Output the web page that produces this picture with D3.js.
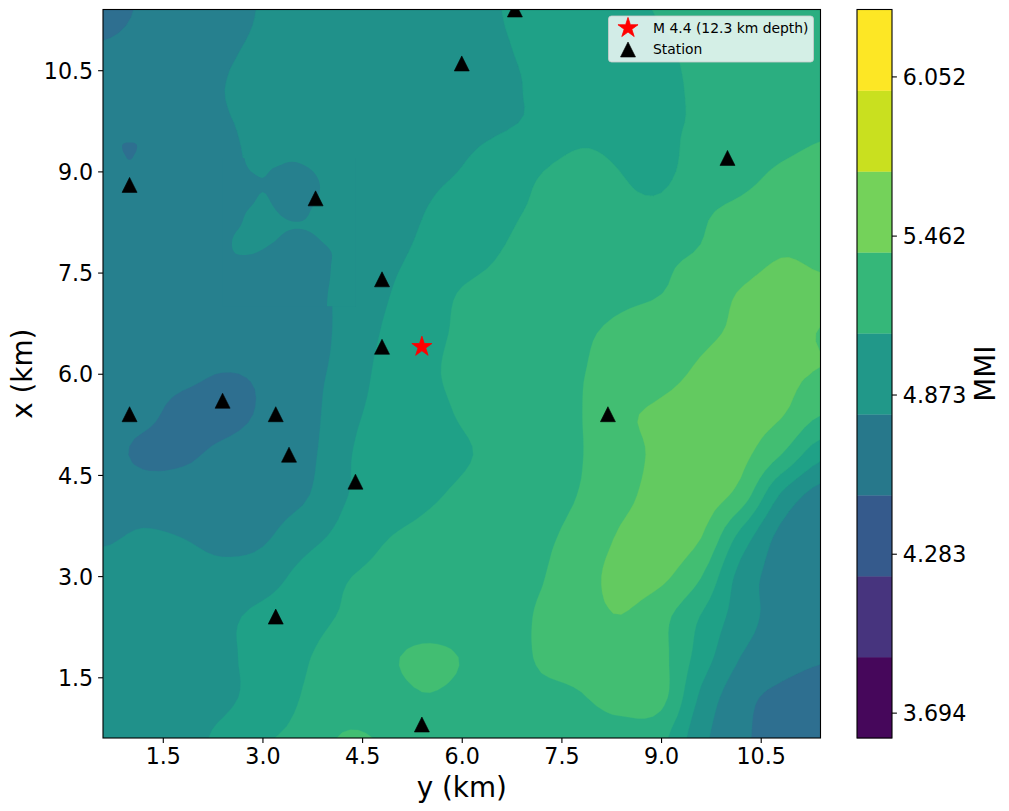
<!DOCTYPE html>
<html><head><meta charset="utf-8">
<script src="https://cdn.jsdelivr.net/npm/d3@7/dist/d3.min.js"></script>
<style>
html,body{margin:0;padding:0;background:#fff}
svg{display:block}
text{font-family:"DejaVu Sans",sans-serif;fill:#000}
</style></head><body><svg id="c" width="1009" height="811"></svg>
<script>
// MMI on a 0.6 km grid; rows run from x = 11.4 km (top) down to x = 0.6 km, columns from y = 0.6 to 11.4 km
const mmiRows = [
[4.62,4.724,4.788,4.85,4.908,4.94,4.972,5.004,5.036,5.068,5.1,5.152,5.206,5.26,5.31,5.34,5.37,5.4,5.43],
[4.72,4.76,4.81,4.882,4.916,4.944,4.974,5.004,5.032,5.06,5.09,5.13,5.18,5.23,5.28,5.33,5.36,5.4,5.44],
[4.74,4.78,4.83,4.898,4.92,4.944,4.97,4.996,5.024,5.05,5.08,5.12,5.17,5.22,5.27,5.32,5.36,5.4,5.46],
[4.78,4.75,4.82,4.886,4.918,4.948,4.978,5.008,5.038,5.066,5.096,5.14,5.24,5.232,5.278,5.32,5.37,5.42,5.48],
[4.8,4.76,4.82,4.87,4.92,4.925,4.96,5.01,5.06,5.106,5.2,5.296,5.37,5.298,5.26,5.39,5.45,5.52,5.57],
[4.8,4.79,4.82,4.86,4.92,4.88,4.958,5.026,5.094,5.176,5.264,5.322,5.336,5.34,5.35,5.476,5.53,5.57,5.61],
[4.8,4.8,4.82,4.896,4.906,4.86,4.95,5.04,5.13,5.216,5.302,5.344,5.384,5.426,5.468,5.51,5.59,5.686,5.66],
[4.8,4.81,4.82,4.84,4.856,4.844,4.93,5.07,5.2,5.31,5.35,5.384,5.42,5.46,5.496,5.6,5.71,5.77,5.73],
[4.8,4.81,4.82,4.83,4.844,4.844,4.93,5.11,5.24,5.324,5.38,5.424,5.476,5.54,5.61,5.67,5.724,5.76,5.694],
[4.8,4.79,4.75,4.696,4.73,4.84,4.95,5.15,5.26,5.336,5.39,5.44,5.494,5.56,5.65,5.72,5.75,5.74,5.69],
[4.8,4.75,4.64,4.64,4.72,4.8,5.02,5.16,5.234,5.314,5.37,5.43,5.496,5.66,5.73,5.76,5.75,5.716,5.51],
[4.78,4.66,4.67,4.74,4.79,4.82,5.06,5.18,5.21,5.28,5.35,5.426,5.494,5.624,5.74,5.8,5.75,5.504,5.16],
[4.84,4.81,4.79,4.8,4.83,4.87,5.08,5.17,5.26,5.33,5.39,5.444,5.51,5.65,5.76,5.79,5.62,5.08,4.82],
[4.876,4.916,4.894,4.84,4.87,5.01,5.15,5.28,5.34,5.38,5.43,5.47,5.56,5.72,5.77,5.71,5.24,4.85,4.76],
[4.97,4.97,4.98,4.96,5.0,5.16,5.28,5.34,5.38,5.41,5.45,5.49,5.62,5.76,5.74,5.51,5.03,4.82,4.76],
[5.0,5.01,5.024,5.06,5.15,5.236,5.31,5.35,5.384,5.42,5.44,5.52,5.62,5.696,5.56,5.29,5.0,4.82,4.77],
[5.0,5.01,5.03,5.07,5.16,5.28,5.36,5.45,5.544,5.494,5.42,5.52,5.56,5.61,5.55,5.21,4.896,4.79,4.72],
[5.02,5.03,5.04,5.06,5.18,5.306,5.36,5.43,5.492,5.47,5.44,5.46,5.49,5.57,5.56,5.06,4.77,4.65,4.59],
[4.96,4.99,5.04,5.14,5.28,5.34,5.516,5.49,5.47,5.444,5.42,5.41,5.41,5.42,5.35,4.96,4.74,4.62,4.57]
];
const kmMin = 0.6, kmMax = 11.4, kmStep = 0.6;
const mapLevels = [4.7,4.9,5.1,5.3,5.5,5.7];
const mapColors = ["#2e6f90","#26808e","#20918a","#1fa187","#2bae80","#42be72","#63ca60"];

// finer reading around the closed low near y = 3.4 km, x = 8.6 km: 0.2 km grid, y = 2.4 to 4.4, x = 9.2 down to 7.0
const neckRows = [
[4.856,4.882,4.908,4.914,4.916,4.906,4.91,4.93,4.956,4.98,5.0],
[4.846,4.872,4.898,4.906,4.892,4.88,4.886,4.904,4.928,4.952,4.976],
[4.84,4.856,4.876,4.896,4.88,4.856,4.866,4.892,4.916,4.94,4.964],
[4.85,4.866,4.886,4.906,4.888,4.87,4.87,4.896,4.922,4.946,4.97],
[4.86,4.882,4.904,4.918,4.902,4.886,4.886,4.912,4.934,4.958,4.98],
[4.87,4.892,4.912,4.924,4.914,4.904,4.903,4.912,4.936,4.96,4.98],
[4.882,4.906,4.92,4.912,4.902,4.886,4.884,4.896,4.914,4.936,4.96],
[4.882,4.902,4.904,4.896,4.884,4.868,4.864,4.878,4.896,4.918,4.94],
[4.87,4.876,4.878,4.872,4.86,4.844,4.842,4.868,4.896,4.92,4.944],
[4.86,4.86,4.86,4.856,4.848,4.84,4.848,4.872,4.898,4.924,4.948],
[4.85,4.85,4.85,4.848,4.844,4.844,4.85,4.874,4.902,4.926,4.95],
[4.844,4.844,4.844,4.844,4.844,4.848,4.85,4.876,4.904,4.928,4.954]
];
const neckOrigin = [2.4, 9.2], neckStep = 0.2;

// small closed low near y = 1 km, x = 9.3 km, on a 0.1 km grid (rows from x = 9.5 down to 9.1, columns y = 0.8 to 1.2)
const dipRows = [
[4.76,4.76,4.76,4.76,4.76],
[4.76,4.697,4.68,4.697,4.76],
[4.76,4.70,4.67,4.70,4.76],
[4.76,4.73,4.685,4.73,4.76],
[4.76,4.76,4.74,4.76,4.76]
];
const dipOrigin = [0.8, 9.5], dipStep = 0.1;

const stationY = [1.0,3.8,4.8,4.8,1.0,2.4,3.2,3.4,4.4,3.2,5.4,6.8,6.0,10.0,8.2];
const stationX = [8.8,8.6,7.4,6.4,5.4,5.6,5.4,4.8,4.4,2.4,0.8,11.4,10.6,9.2,5.4];
const epicentreY = [5.4], epicentreX = [6.4];

const axisTicks = [1.5,3,4.5,6,7.5,9,10.5];
const barLevels = [3.6,3.9,4.2,4.5,4.8,5.1,5.4,5.7,6.0,6.3];
const barColors = ["#46075b","#47347e","#355a8c","#27788b","#219889","#35b779","#74d25a","#c9e01f","#fde725"];
const barTicks = [3.694,4.283,4.873,5.462,6.052];
const legendLabels = ["M 4.4 (12.3 km depth)","Station"];

const L=103,R=820.5,T=9.5,B=738,bL=857,bR=892;
const sx = d3.scaleLinear([kmMin,kmMax],[L,R]);
const sy = d3.scaleLinear([kmMin,kmMax],[B,T]);
const sb = d3.scaleLinear([barLevels[0],barLevels[barLevels.length-1]],[B,T]);
const svg = d3.select("#c");
const defs = svg.append("defs");
defs.append("clipPath").attr("id","plot").append("rect").attr("x",L).attr("y",T).attr("width",R-L).attr("height",B-T);

// render-time smoothing of each grid so the contour outlines stay round
function refine(rows,k){
  const m=rows.length,n=rows[0].length;
  const cr=(a,b,c,d,t)=>0.5*(2*b+(c-a)*t+(2*a-5*b+4*c-d)*t*t+(3*b-a-3*c+d)*t*t*t);
  const at=(j,i)=>rows[Math.max(0,Math.min(m-1,j))][Math.max(0,Math.min(n-1,i))];
  const N=(n-1)*k+1,M=(m-1)*k+1,out=new Array(N*M);
  for(let J=0;J<M;J++){const j=Math.min(m-2,Math.floor(J/k)),tj=J/k-j;
    for(let I=0;I<N;I++){const i=Math.min(n-2,Math.floor(I/k)),ti=I/k-i;
      const c=[-1,0,1,2].map(dj=>cr(at(j+dj,i-1),at(j+dj,i),at(j+dj,i+1),at(j+dj,i+2),ti));
      out[J*N+I]=cr(c[0],c[1],c[2],c[3],tj);
    }}
  return {values:out,N,M};
}
function gridPath(y0,x0,step,k){
  return d3.geoPath(d3.geoTransform({point(cx,cy){
    this.stream.point(sx(y0+(cx-0.5)/k*step),sy(x0-(cy-0.5)/k*step));
  }}));
}
const k=5, g=refine(mmiRows,k);
const map=svg.append("g").attr("clip-path","url(#plot)");
map.append("rect").attr("x",L).attr("y",T).attr("width",R-L).attr("height",B-T).attr("fill",mapColors[0]);
const contours=d3.contours().size([g.N,g.M]).thresholds(mapLevels)(g.values);
const mainPath=gridPath(kmMin,kmMax,kmStep,k);
map.selectAll("path.band").data(contours).join("path").attr("class","band")
  .attr("d",mainPath).attr("fill",(d,i)=>mapColors[i+1]).attr("stroke",(d,i)=>mapColors[i+1]).attr("stroke-width",0.3);

// finer patch
const nk=4,ng=refine(neckRows,nk);
const nY1=neckOrigin[0]+neckStep*(neckRows[0].length-1),nX1=neckOrigin[1]-neckStep*(neckRows.length-1);
defs.append("clipPath").attr("id","neck").append("rect")
  .attr("x",sx(neckOrigin[0])).attr("y",sy(neckOrigin[1])).attr("width",sx(nY1)-sx(neckOrigin[0])).attr("height",sy(nX1)-sy(neckOrigin[1]));
const neck=map.append("g").attr("clip-path","url(#neck)");
neck.append("rect").attr("x",sx(neckOrigin[0])).attr("y",sy(neckOrigin[1])).attr("width",sx(nY1)-sx(neckOrigin[0])).attr("height",sy(nX1)-sy(neckOrigin[1])).attr("fill",mapColors[1]);
neck.selectAll("path").data(d3.contours().size([ng.N,ng.M]).thresholds([mapLevels[1]])(ng.values)).join("path")
  .attr("d",gridPath(neckOrigin[0],neckOrigin[1],neckStep,nk)).attr("fill",mapColors[2]);

// closed low
const dk=5,dg=refine(dipRows,dk);
const dip=d3.contours().size([dg.N,dg.M]).thresholds([-mapLevels[0]])(dg.values.map(v=>-v));
map.selectAll("path.dip").data(dip).join("path").attr("class","dip").attr("d",gridPath(dipOrigin[0],dipOrigin[1],dipStep,dk)).attr("fill",mapColors[0]);

// markers
const triangle={draw(ctx,size){const r=Math.sqrt(size)/2;ctx.moveTo(0,-r);ctx.lineTo(r,r);ctx.lineTo(-r,r);ctx.closePath();}};
const triPath=d3.symbol().type(triangle).size(225)();
const starPath=d3.symbol().type(d3.symbolStar).size(125)();
map.selectAll("path.st").data(stationY).join("path").attr("class","st").attr("d",triPath)
  .attr("transform",(d,i)=>`translate(${sx(d)},${sy(stationX[i])})`).attr("fill","#000").attr("stroke","#000").attr("stroke-width",0.6);
map.selectAll("path.ep").data(epicentreY).join("path").attr("class","ep").attr("d",starPath)
  .attr("transform",(d,i)=>`translate(${sx(d)},${sy(epicentreX[i])})`).attr("fill","#f00").attr("stroke","#f00").attr("stroke-width",0.8);

// legend
const lg=svg.append("g");
lg.append("rect").attr("x",608.5).attr("y",16).attr("width",205).attr("height",46).attr("rx",3)
  .attr("fill","#fff").attr("fill-opacity",0.8).attr("stroke","#ccc").attr("stroke-opacity",0.8).attr("stroke-width",1);
lg.append("path").attr("d",starPath).attr("transform","translate(628,28)").attr("fill","#f00").attr("stroke","#f00").attr("stroke-width",0.8);
lg.append("path").attr("d",triPath).attr("transform","translate(628,49.5)").attr("fill","#000").attr("stroke","#000").attr("stroke-width",0.6);
lg.selectAll("text").data(legendLabels).join("text").attr("x",653).attr("y",(d,i)=>33+i*21).attr("font-size",13.9).text(d=>d);

// axes
const fmt=d3.format(".1f");
function style(g){
  g.selectAll("text").attr("font-size",22.2).attr("fill","#000").style("font-family",'"DejaVu Sans",sans-serif');
  g.selectAll("line").attr("stroke","#000").attr("stroke-width",1.1);
  g.select(".domain").remove();
}
svg.append("g").attr("transform",`translate(0,${B})`)
  .call(d3.axisBottom(sx).tickValues(axisTicks).tickFormat(fmt).tickSize(4.9).tickPadding(4.9)).call(style);
svg.append("g").attr("transform",`translate(${L},0)`)
  .call(d3.axisLeft(sy).tickValues(axisTicks).tickFormat(fmt).tickSize(4.9).tickPadding(4.9)).call(style).selectAll("text").attr("y",1);
svg.append("rect").attr("x",L).attr("y",T).attr("width",R-L).attr("height",B-T).attr("fill","none").attr("stroke","#000").attr("stroke-width",1.1);
svg.append("text").attr("x",(L+R)/2).attr("y",797).attr("text-anchor","middle").attr("font-size",27.8).text("y (km)");
svg.append("text").attr("transform",`translate(32,${(T+B)/2}) rotate(-90)`).attr("text-anchor","middle").attr("font-size",27.8).text("x (km)");

// colour bar
const bars=d3.range(barColors.length);
svg.append("g").selectAll("rect").data(bars).join("rect")
  .attr("x",bL).attr("width",bR-bL).attr("y",i=>sb(barLevels[i+1])).attr("height",i=>sb(barLevels[i])-sb(barLevels[i+1])+0.3)
  .attr("fill",i=>barColors[i]);
svg.append("g").attr("transform",`translate(${bR},0)`)
  .call(d3.axisRight(sb).tickValues(barTicks).tickFormat(d3.format(".3f")).tickSize(4.9).tickPadding(5.9)).call(style).selectAll("text").attr("y",1);
svg.append("rect").attr("x",bL).attr("y",T).attr("width",bR-bL).attr("height",B-T).attr("fill","none").attr("stroke","#000").attr("stroke-width",1.1);
svg.append("text").attr("transform",`translate(995,${(T+B)/2}) rotate(-90)`).attr("text-anchor","middle").attr("font-size",27.8).text("MMI");
</script></body></html>
